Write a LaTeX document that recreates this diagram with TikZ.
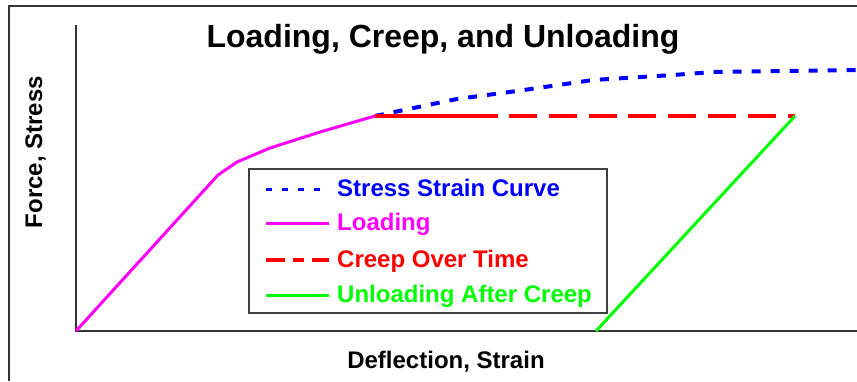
\documentclass[tikz,border=0pt]{standalone}
\usepackage{fontspec}
\setmainfont{Liberation Sans}
\usepackage{tikz}
\usetikzlibrary{positioning}
\definecolor{stresscolor}{HTML}{0000FF}
\definecolor{loadcolor}{HTML}{FF00FF}
\definecolor{creepcolor}{HTML}{FF0000}
\definecolor{unloadcolor}{HTML}{00FF00}

\begin{document}
\begin{tikzpicture}[x=1pt, y=-1pt,
  lbl/.style={font=\fontsize{24}{28}\selectfont\bfseries, inner sep=0pt},
  stresscurve/.style={stresscolor, line width=4pt, dash pattern=on 9pt off 10pt},
  stresskey/.style={stresscolor, line width=3pt, dash pattern=on 6pt off 10pt},
  loadcurve/.style={loadcolor, line width=3pt},
  creepcurve/.style={creepcolor, line width=4pt, dash pattern=on 28pt off 11.8pt},
  creepkey/.style={creepcolor, line width=4pt, dash pattern=on 19pt off 8pt on 11pt off 8pt},
  unloadcurve/.style={unloadcolor, line width=3pt}]
  \useasboundingbox (0,0) rectangle (857,381);

  % frame
  \draw[black!80, line width=1.2pt] (9,381) -- (9,6) -- (857,6);

  % axes
  \coordinate (origin) at (76,331);
  \coordinate (ytop) at (76,25);
  \coordinate (xend) at (857,331);
  \draw[black!80, line width=1.5pt] (ytop) -- (origin) -- (xend);

  % labels
  \node[font=\fontsize{32}{36}\selectfont\bfseries, inner sep=0pt, anchor=base] (title) at (443,47) {Loading, Creep, and Unloading};
  \node[lbl, anchor=base] (xlabel) at (446,368) {Deflection, Strain};
  \node[lbl, rotate=90, anchor=base] (ylabel) at (42,152) {Force, Stress};

  % curves
  \coordinate (yield) at (375,116);
  \coordinate (creepstart) at (498,116);
  \coordinate (creepend) at (795,116);
  \coordinate (unloadend) at (596,331);
  \draw[stresscurve] (yield) -- (457,99) -- (517,91) -- (593,80) -- (673,75) -- (713,72) -- (857,70);
  \draw[loadcurve] (origin) -- (218,175) -- (237,162) -- (270,148) -- (320,132) -- (yield);
  \draw[creepcurve, solid] (yield) -- (creepstart);
  \draw[creepcurve] ([xshift=11pt]creepstart) -- (creepend);
  \draw[unloadcurve] (unloadend) -- (creepend);

  % legend
  \node[draw=black!75, line width=1.2pt, minimum width=358pt, minimum height=144pt, inner sep=0pt] (legend) at (428,241) {};
  \foreach \y/\sty/\col/\txt [count=\i] in {
    189/stresskey/stresscolor/Stress Strain Curve,
    223/loadcurve/loadcolor/Loading,
    260/creepkey/creepcolor/Creep Over Time,
    295/unloadcurve/unloadcolor/Unloading After Creep
  } {
    \coordinate (key\i) at (266,\y);
    \node[lbl, text=\col, anchor=base west] (entry\i) at (337,\y+7.5) {\txt};
    \draw[\sty] (key\i) -- ++(63,0);
  }
\end{tikzpicture}
\end{document}
